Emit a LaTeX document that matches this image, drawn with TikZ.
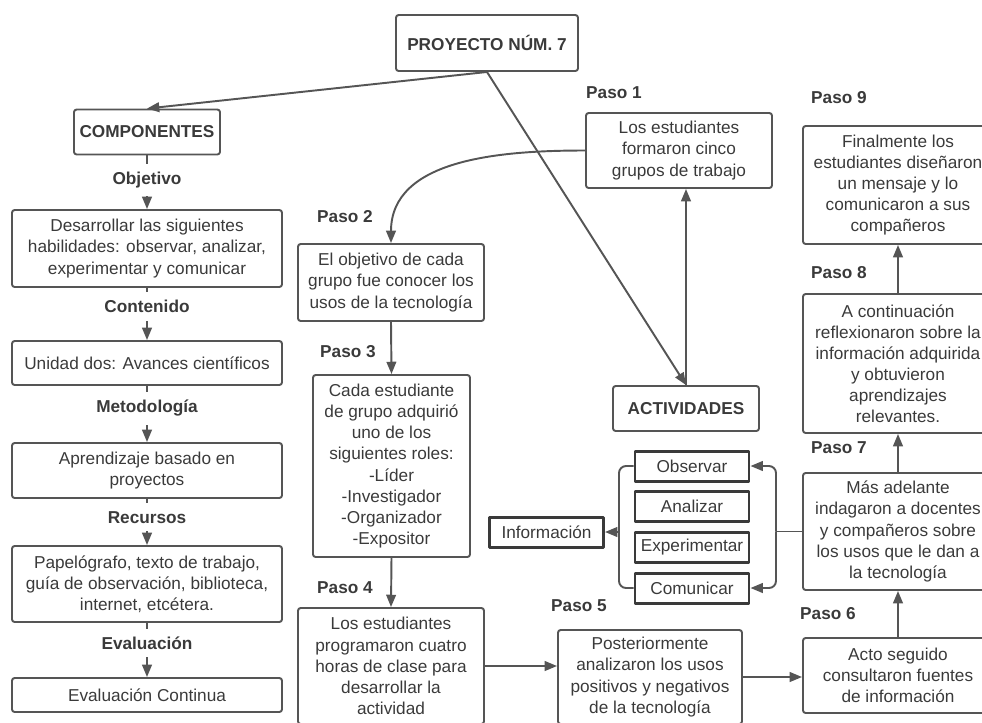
\documentclass[tikz,border=0pt]{standalone}
\usepackage{fontspec}
\setmainfont{Liberation Sans}
\usetikzlibrary{arrows.meta}
\definecolor{linea}{HTML}{555555}
\definecolor{letra}{HTML}{3A3A3A}
\newcommand\letratam{\fontsize{9.8}{12}\selectfont}
\tikzset{
	caja/.style 2 args={draw=linea, line width=1.1pt, rounded corners=1.5pt, text=letra, align=center, inner sep=0pt, minimum width=#1*0.2mm, minimum height=#2*0.2mm},
	hab/.style={draw=letra, line width=1.7pt, text=letra, inner sep=0pt, minimum width=22.8mm, minimum height=6mm},
	paso/.style={font=\letratam\bfseries, text=letra},
	etiq/.style={font=\letratam\bfseries, text=letra, fill=white, inner xsep=2pt, inner ysep=1.6mm},
	flecha/.style={draw=linea, line width=1.1pt, -{Triangle[length=7pt,width=5.5pt]}},
}
\begin{document}
\begin{tikzpicture}[x=0.2mm, y=-0.2mm, font=\letratam, line join=round]
			\useasboundingbox (0,0) rectangle (982,722);
			\path
			(487,43) node[caja={182}{56}, font=\letratam\bfseries] (proy) {PROYECTO NÚM. 7}
			(147,132) node[caja={146}{45}, font=\letratam\bfseries] (comp) {COMPONENTES}
			(686,408.5) node[caja={146}{45}, font=\letratam\bfseries] (act) {ACTIVIDADES}

			(147,248.5) node[caja={270}{77}] (obj) {Desarrollar las siguientes\\habilidades: observar, analizar,\\experimentar y comunicar}
			(147,363) node[caja={270}{44}] (cont) {Unidad dos: Avances científicos}
			(147,470.5) node[caja={270}{55}] (met) {Aprendizaje basado en\\proyectos}
			(147,584) node[caja={270}{76}] (rec) {Papelógrafo, texto de trabajo,\\guía de observación, biblioteca,\\internet, etcétera.}
			(147,695) node[caja={270}{34}] (eva) {Evaluación Continua}

			(679,150.5) node[caja={186}{75}] (p1) {Los estudiantes\\formaron cinco\\grupos de trabajo}
			(391,282.5) node[caja={186}{77}] (p2) {El objetivo de cada\\grupo fue conocer los\\usos de la tecnología}
			(391.5,466) node[caja={157}{182}] (p3) {Cada estudiante\\de grupo adquirió\\uno de los\\siguientes roles:\\-Líder\\-Investigador\\-Organizador\\-Expositor}
			(391,666) node[caja={186}{116}] (p4) {Los estudiantes\\programaron cuatro\\horas de clase para\\desarrollar la\\actividad}
			(650,677) node[caja={184}{94}] (p5) {Posteriormente\\analizaron los usos\\positivos y negativos\\de la tecnología}
			(898,675.5) node[caja={190}{75}] (p6) {Acto seguido\\consultaron fuentes\\de información}
			(898,531.5) node[caja={190}{117}] (p7) {Más adelante\\indagaron a docentes\\y compañeros sobre\\los usos que le dan a\\la tecnología}
			(898,363.5) node[caja={190}{139}] (p8) {A continuación\\reflexionaron sobre la\\información adquirida\\y obtuvieron\\aprendizajes\\relevantes.}
			(898,185) node[caja={190}{118}] (p9) {Finalmente los\\estudiantes diseñaron\\un mensaje y lo\\comunicaron a sus\\compañeros}

			(692,466) node[hab] (obs) {Observar}
			(692,506.5) node[hab] (ana) {Analizar}
			(692,547) node[hab] (exper) {Experimentar}
			(692,588) node[hab] (com) {Comunicar}
			(546.5,532) node[hab] (info) {Información}

			(614,93) node[paso] (lp1) {Paso 1}
			(345,217) node[paso] (lp2) {Paso 2}
			(348,352) node[paso] (lp3) {Paso 3}
			(345,588) node[paso] (lp4) {Paso 4}
			(579,606) node[paso] (lp5) {Paso 5}
			(828,614) node[paso] (lp6) {Paso 6}
			(839,448) node[paso] (lp7) {Paso 7}
			(839,273) node[paso] (lp8) {Paso 8}
			(839,98) node[paso] (lp9) {Paso 9};

			\draw[flecha] (proy.south) -- (comp.north);
			\draw[flecha] (proy.south) -- (act.north);
			\draw[flecha] (act.north) -- (act.north |- p1.south);
			\draw[flecha] (p1.west) to[out=180, in=90] (p2.north);
			\draw[flecha] (p2.south) -- (p3.north);
			\draw[flecha] (p3.south) -- (p4.north);
			\draw[flecha] (p4.east) -- (p4.east -| p5.west);
			\draw[flecha] (p5.east) -- (p5.east -| p6.west);
			\draw[flecha] (p6.north) -- (p7.south);
			\draw[flecha] (p7.north) -- (p8.south);
			\draw[flecha] (p8.north) -- (p9.south);

			\draw[flecha] (comp.south) -- node[etiq, pos=0.46] (lobj) {Objetivo} (obj.north);
			\draw[flecha] (obj.south) -- node[etiq, pos=0.36] (lcont) {Contenido} (cont.north);
			\draw[flecha] (cont.south) -- node[etiq, pos=0.4] (lmet) {Metodología} (met.north);
			\draw[flecha] (met.south) -- node[etiq, pos=0.4] (lrec) {Recursos} (rec.north);
			\draw[flecha] (rec.south) -- node[etiq, pos=0.37] (leva) {Evaluación} (eva.north);

			\coordinate (der) at (776,531.5);
			\coordinate (izq) at (619,532);
			\draw[draw=linea, line width=1.1pt] (p7.west) -- (der);
			\draw[flecha, rounded corners=4pt] (der) |- (obs.east);
			\draw[flecha, rounded corners=4pt] (der) |- (com.east);
			\draw[draw=linea, line width=1.1pt, rounded corners=4pt] (obs.west) -| (izq) |- (com.west);
			\draw[flecha] (izq) -- (info.east);
		\end{tikzpicture}
\end{document}
